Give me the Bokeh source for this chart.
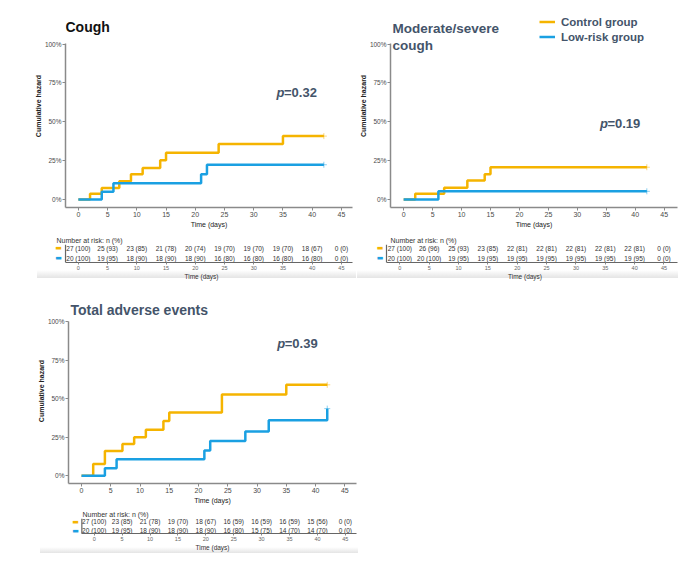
from bokeh.plotting import figure
from bokeh.models import (FixedTicker, PrintfTickFormatter, Label, Legend, LegendItem,
                          Range1d, Span)
from bokeh.layouts import column, row
from bokeh.core.properties import value
from bokeh.embed import file_html
from bokeh.resources import INLINE

ORANGE = "#F5B400"
BLUE = "#1AA0E2"
SLATE = "#44546A"
FONT = "Liberation Sans"

# ---------------- data ----------------
x_ticks = [0, 5, 10, 15, 20, 25, 30, 35, 40, 45]
y_ticks = [0, 25, 50, 75, 100]
series_names = ["Control group", "Low-risk group"]

cough_ctrl_t = [0, 2, 4, 7, 9, 11, 14, 15, 24, 35, 42]
cough_ctrl_h = [0, 3.7, 7.5, 11.8, 16.2, 20.3, 25.2, 30.1, 35.7, 40.8, 40.8]
cough_low_t = [0, 4, 6, 21, 22, 42]
cough_low_h = [0, 5.1, 10.5, 16.2, 22.4, 22.4]

mod_ctrl_t = [0, 2, 7, 11, 14, 15, 42]
mod_ctrl_h = [0, 3.8, 7.6, 12.3, 16.3, 20.8, 20.8]
mod_low_t = [0, 6, 42]
mod_low_h = [0, 5.3, 5.3]

total_ctrl_t = [0, 2, 4, 7, 9, 11, 14, 15, 24, 35, 42]
total_ctrl_h = [0, 7.6, 16.1, 20.6, 25.0, 29.9, 35.6, 41.1, 52.8, 59.1, 59.1]
total_low_t = [0, 4, 6, 21, 22, 28, 32, 42]
total_low_h = [0, 4.9, 10.6, 16.3, 22.5, 28.8, 36.0, 43.6]

risk_times = [0, 5, 10, 15, 20, 25, 30, 35, 40, 45]
cough_risk_ctrl = ["27 (100)", "25 (93)", "23 (85)", "21 (78)", "20 (74)", "19 (70)", "19 (70)", "19 (70)", "18 (67)", "0 (0)"]
cough_risk_low = ["20 (100)", "19 (95)", "18 (90)", "18 (90)", "18 (90)", "16 (80)", "16 (80)", "16 (80)", "16 (80)", "0 (0)"]
mod_risk_ctrl = ["27 (100)", "26 (96)", "25 (93)", "23 (85)", "22 (81)", "22 (81)", "22 (81)", "22 (81)", "22 (81)", "0 (0)"]
mod_risk_low = ["20 (100)", "20 (100)", "19 (95)", "19 (95)", "19 (95)", "19 (95)", "19 (95)", "19 (95)", "19 (95)", "0 (0)"]
total_risk_ctrl = ["27 (100)", "23 (85)", "21 (78)", "19 (70)", "18 (67)", "16 (59)", "16 (59)", "16 (59)", "15 (56)", "0 (0)"]
total_risk_low = ["20 (100)", "19 (95)", "18 (90)", "18 (90)", "18 (90)", "16 (80)", "15 (75)", "14 (70)", "14 (70)", "0 (0)"]

Y_BOTTOM = -5.1
Y_AXIS_TOP = 100.6


def style_common(p):
    p.xgrid.visible = False
    p.ygrid.visible = False
    p.outline_line_color = None
    p.background_fill_color = "white"
    p.border_fill_color = "white"


def main_fig(width, height, x_start, x_end, y_top, mbl, mbr, mbt, mbb):
    p = figure(width=width, height=height, x_range=Range1d(x_start, x_end),
               y_range=Range1d(Y_BOTTOM, y_top), output_backend="svg", toolbar_location=None,
               min_border_left=mbl, min_border_right=mbr, min_border_top=mbt,
               min_border_bottom=mbb)
    style_common(p)
    for ax in (p.xaxis[0], p.yaxis[0]):
        ax.axis_line_color = "#8a8a8a"
        ax.axis_line_width = 1.5
        ax.major_tick_line_color = "#8a8a8a"
        ax.major_tick_in = 0
        ax.major_tick_out = 3
        ax.minor_tick_line_color = None
        ax.major_label_text_font = FONT
        ax.major_label_text_color = "#4a4a4a"
        ax.axis_label_text_font = FONT
        ax.axis_label_text_font_style = "normal"
        ax.axis_label_text_color = "#222222"
        ax.major_label_standoff = 1
        ax.axis_label_standoff = 1
    p.xaxis.ticker = FixedTicker(ticks=x_ticks)
    p.xaxis.major_label_text_font_size = "7px"
    p.xaxis.axis_label = "Time (days)"
    p.xaxis.axis_label_text_font_size = "7px"
    p.yaxis.ticker = FixedTicker(ticks=y_ticks)
    p.yaxis.bounds = (Y_BOTTOM, Y_AXIS_TOP)
    p.yaxis.formatter = PrintfTickFormatter(format="%d%%")
    p.yaxis.major_label_text_font_size = "6.5px"
    p.yaxis.axis_label = "Cumulative hazard"
    p.yaxis.axis_label_text_font_size = "7px"
    p.yaxis.axis_label_text_font_style = "bold"
    p.yaxis.axis_label_standoff = 0
    return p


def draw_curves(p, ct, ch, lt, lh):
    r1 = p.step(ct, ch, mode="after", line_width=2.5, line_color=ORANGE)
    p.scatter([ct[-1]], [ch[-1]], marker="cross", size=6, line_color=ORANGE, line_alpha=0.5)
    r2 = p.step(lt, lh, mode="after", line_width=2.5, line_color=BLUE)
    p.scatter([lt[-1]], [lh[-1]], marker="cross", size=6, line_color=BLUE, line_alpha=0.5)
    return r1, r2


def title_label(p, x, y, txt, color, size="14px"):
    p.add_layout(Label(x=x, y=y, text=txt, text_font=FONT, text_font_size=size,
                       text_font_style="bold", text_color=color,
                       text_baseline="middle", text_align="left"))


def pvalue(p, x, y, txt):
    p.add_layout(Label(x=x, y=y, text="p", text_font=FONT, text_font_size="13px",
                       text_font_style="bold italic", text_color=SLATE,
                       text_baseline="middle", text_align="left"))
    p.add_layout(Label(x=x, y=y, x_offset=7.5, text=txt, text_font=FONT, text_font_size="13px",
                       text_font_style="bold", text_color=SLATE,
                       text_baseline="middle", text_align="left"))


def table_fig(width, height, x_start, x_axis_start, x_end, y_start, y_end, mbl, mbr, mbt, mbb,
              ctrl, low, title_offset, marker_x, band):
    p = figure(width=width, height=height, x_range=Range1d(x_start, x_end),
               y_range=Range1d(y_start, y_end), output_backend="svg", toolbar_location=None,
               min_border_left=mbl, min_border_right=mbr, min_border_top=mbt,
               min_border_bottom=mbb)
    style_common(p)
    p.border_fill_alpha = 0
    bx, by, bw, bh = band
    p.styles = {
        "background-color": "white",
        "background-image": "linear-gradient(to bottom, #ffffff, #e4e4e4)",
        "background-size": f"{bw}px {bh}px",
        "background-position": f"{bx}px {by}px",
        "background-repeat": "no-repeat",
    }
    p.title.text = "Number at risk: n (%)"
    p.title.align = "left"
    p.title.offset = title_offset
    p.title.text_font = FONT
    p.title.text_font_size = "7px"
    p.title.text_font_style = "normal"
    p.title.text_color = "#333333"
    p.title.standoff = 1
    p.yaxis.visible = False
    ax = p.xaxis[0]
    ax.bounds = (x_axis_start, x_end)
    ax.axis_line_color = "#666666"
    ax.axis_line_width = 1.2
    ax.major_tick_line_color = "#888888"
    ax.major_tick_in = 0
    ax.major_tick_out = 2
    ax.minor_tick_line_color = None
    ax.ticker = FixedTicker(ticks=x_ticks)
    ax.major_label_text_font = FONT
    ax.major_label_text_font_size = "5.5px"
    ax.major_label_text_color = "#666666"
    ax.major_label_standoff = 1
    ax.axis_label = "Time (days)"
    ax.axis_label_text_font = FONT
    ax.axis_label_text_font_style = "normal"
    ax.axis_label_text_font_size = "6.5px"
    ax.axis_label_text_color = "#333333"
    ax.axis_label_standoff = 0
    p.add_layout(Span(location=x_axis_start, dimension="height", line_color="#666666",
                      line_width=1.2))
    p.text(risk_times, [1] * len(risk_times), text=ctrl, text_font=value(FONT),
           text_font_size="6.5px", text_color="#333333", text_align="center",
           text_baseline="middle")
    p.text(risk_times, [0] * len(risk_times), text=low, text_font=value(FONT),
           text_font_size="6.5px", text_color="#333333", text_align="center",
           text_baseline="middle")
    for yy, col in ((1, ORANGE), (0, BLUE)):
        p.add_layout(Label(x=marker_x, y=yy, text="\u25ac", text_font="DejaVu Sans",
                           text_font_size="7px", text_color=col, text_align="center",
                           text_baseline="middle"))
    return p


# ---------------- top left: Cough ----------------
tl = main_fig(356, 230, -2.2, 46.9, 125.4, 65, 4, 4, 21)
draw_curves(tl, cough_ctrl_t, cough_ctrl_h, cough_low_t, cough_low_h)
pvalue(tl, 33.9, 68.8, "=0.32")
title_label(tl, -2.2, 110.8, "Cough", "#111111")

# ---------------- top right: Moderate/severe cough ----------------
tr = main_fig(342, 230, -2.27, 47.3, 125.4, 30, 21, 4, 21)
r1, r2 = draw_curves(tr, mod_ctrl_t, mod_ctrl_h, mod_low_t, mod_low_h)
pvalue(tr, 33.9, 48.7, "=0.19")
title_label(tr, -1.93, 110.2, "Moderate/severe", SLATE, "13.5px")
title_label(tr, -1.93, 99.3, "cough", SLATE, "13.5px")
legend = Legend(items=[LegendItem(label=series_names[0], renderers=[r1]),
                       LegendItem(label=series_names[1], renderers=[r2])],
                location=(149, 163), glyph_width=16, glyph_height=15, label_height=15,
                label_standoff=6, spacing=0, padding=0, margin=0, border_line_color=None,
                background_fill_alpha=0, label_text_font=FONT, label_text_font_size="11.5px",
                label_text_font_style="bold", label_text_color=SLATE)
tr.add_layout(legend)

# ---------------- tables row 1 ----------------
tlt = table_fig(356, 52, -4.77, -2.2, 46.9, -0.46, 1.39, 50, 4, 14, 19,
                cough_risk_ctrl, cough_risk_low, 6, -3.4, (37, 40, 319, 8))
trt = table_fig(342, 52, -4.655, -2.27, 47.3, -0.46, 1.39, 16, 21, 14, 19,
                mod_risk_ctrl, mod_risk_low, 18, -3.38, (1, 40, 321, 8))

# ---------------- bottom: Total adverse events ----------------
bl = main_fig(360, 224, -2.22, 47.0, 115.25, 68, 4, 16, 19)
draw_curves(bl, total_ctrl_t, total_ctrl_h, total_low_t, total_low_h)
pvalue(bl, 33.45, 85.9, "=0.39")
title_label(bl, -1.88, 107.6, "Total adverse events", SLATE, "14px")

blt = table_fig(360, 47, -4.61, -2.22, 47.0, -0.33, 1.38, 54, 4, 12, 14,
                total_risk_ctrl, total_risk_low, 14, -3.33, (40, 41, 318, 6))

layout = column(row(tl, tr), row(tlt, trt), bl, blt)

with open("out.html", "w") as f:
    f.write(file_html(layout, INLINE))
